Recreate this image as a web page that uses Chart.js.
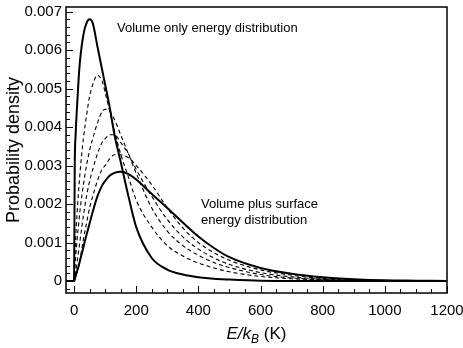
<!DOCTYPE html>
<html>
<head>
<meta charset="utf-8">
<script src="https://cdn.jsdelivr.net/npm/chart.js@4.4.1/dist/chart.umd.min.js"></script>
<style>
  html, body { margin: 0; padding: 0; background: #fff; }
  #wrap { width: 463px; height: 348px; }
</style>
</head>
<body>
<div id="wrap"><canvas id="chart"></canvas></div>
<script>
// energy grid E/kB (K)
const energies = [-26, 0, 2, 5, 10, 15, 20, 30, 40, 50, 60, 75, 90, 100, 115, 130, 150, 175, 200, 250, 300, 350, 400, 450, 500, 600, 700, 800, 900, 1000, 1100, 1200];

// volume only (solid, narrow)
const volumeOnly = [0, 0, 0.0029, 0.0038, 0.0046, 0.0053, 0.0058, 0.0064, 0.0067, 0.0068, 0.0067, 0.0061, 0.0055, 0.0051, 0.0045, 0.0038, 0.0031, 0.0022, 0.0014, 0.0006, 0.0003, 0.00017, 0.0001, 0.00006, 0.00004, 0.00001, 0, 0, 0, 0, 0, 0];

// intermediate curves (dashed)
const mix1 = [0, 0, 0.0005, 0.0011, 0.0018, 0.0024, 0.0029, 0.0037, 0.0043, 0.0048, 0.0051, 0.00535, 0.0052, 0.0049, 0.0044, 0.0039, 0.0033, 0.0027, 0.0021, 0.0014, 0.00092, 0.00065, 0.00047, 0.00034, 0.00024, 0.00012, 0.00006, 0.00003, 0.00001, 0, 0, 0];
const mix2 = [0, 0, 0.0002, 0.0006, 0.0011, 0.0015, 0.0019, 0.0025, 0.003, 0.0034, 0.0037, 0.0041, 0.0044, 0.00446, 0.0044, 0.0042, 0.0038, 0.0033, 0.0028, 0.0019, 0.0013, 0.00092, 0.00067, 0.00048, 0.00035, 0.00017, 0.00008, 0.00004, 0.00002, 0.00001, 0, 0];
const mix3 = [0, 0, 0.00008, 0.00022, 0.0005, 0.0008, 0.0011, 0.0017, 0.0022, 0.0026, 0.0029, 0.0033, 0.0036, 0.0037, 0.0038, 0.0038, 0.0036, 0.0033, 0.0029, 0.0022, 0.0016, 0.00115, 0.00083, 0.0006, 0.00043, 0.00022, 0.00011, 0.00005, 0.00002, 0.00001, 0, 0];
const mix4 = [0, 0, 0.00003, 0.0001, 0.00025, 0.0004, 0.0006, 0.00108, 0.0015, 0.0019, 0.0022, 0.0026, 0.0029, 0.003, 0.00318, 0.00328, 0.00328, 0.0032, 0.003, 0.0025, 0.0019, 0.00138, 0.001, 0.00074, 0.00054, 0.00029, 0.00015, 0.00007, 0.00003, 0.00001, 0, 0];

// volume plus surface (solid, wide)
const volumePlusSurface = [0, 0, 0.00005, 0.00013, 0.00027, 0.0004, 0.00056, 0.00088, 0.0012, 0.0015, 0.0018, 0.0022, 0.00248, 0.0026, 0.00274, 0.00281, 0.00284, 0.00278, 0.00264, 0.00226, 0.0019, 0.00152, 0.00116, 0.00086, 0.00062, 0.00034, 0.00019, 0.0001, 0.00005, 0.00002, 0.00001, 0];

const xTicks = [0, 200, 400, 600, 800, 1000, 1200];
const yTicks = [0, 0.001, 0.002, 0.003, 0.004, 0.005, 0.006, 0.007];

const FONT = "'Liberation Sans', Arial, Helvetica, sans-serif";

function pts(ys) {
  return energies.map((e, i) => ({ x: e, y: ys[i] }));
}

function solid(label, ys) {
  return { label, data: pts(ys), borderColor: "#000", borderWidth: 2, pointRadius: 0, fill: false, cubicInterpolationMode: "monotone" };
}
function dashed(label, ys) {
  return { label, data: pts(ys), borderColor: "#000", borderWidth: 1.1, borderDash: [4, 3], pointRadius: 0, fill: false, cubicInterpolationMode: "monotone" };
}

// frame, inward ticks, annotations and axis title
const decorations = {
  id: "decorations",
  afterDraw(chart) {
    const { ctx, chartArea: a, scales } = chart;
    const xs = scales.x, ys = scales.y;
    ctx.save();
    ctx.strokeStyle = "#000";
    ctx.lineWidth = 1;
    // x ticks
    for (let v = 0; v <= 1200; v += 50) {
      const px = Math.round(xs.getPixelForValue(v)) + 0.5;
      const len = v % 200 === 0 ? 7 : 4;
      ctx.beginPath();
      ctx.moveTo(px, a.bottom);
      ctx.lineTo(px, a.bottom - len);
      ctx.stroke();
    }
    // y ticks
    for (let i = -1; i <= 35; i++) {
      const v = i * 0.0002;
      const py = Math.round(ys.getPixelForValue(v)) + 0.5;
      const len = i % 5 === 0 ? 7 : 4;
      ctx.beginPath();
      ctx.moveTo(a.left, py);
      ctx.lineTo(a.left + len, py);
      ctx.stroke();
    }
    // frame
    ctx.lineWidth = 1.5;
    ctx.strokeRect(a.left, a.top, a.right - a.left, a.bottom - a.top);

    // annotations
    ctx.fillStyle = "#000";
    ctx.font = "13px " + FONT;
    ctx.textAlign = "left";
    ctx.textBaseline = "alphabetic";
    ctx.fillText("Volume only energy distribution", 117, 32);
    ctx.fillText("Volume plus surface", 201, 208);
    ctx.fillText("energy distribution", 201, 224);

    // x axis title: E/k_B (K)
    const parts = [
      { t: "E/k", f: "italic 17px " + FONT, dy: 0 },
      { t: "B", f: "italic 12px " + FONT, dy: 4 },
      { t: " (K)", f: "17px " + FONT, dy: 0 }
    ];
    let w = 0;
    parts.forEach(p => { ctx.font = p.f; p.w = ctx.measureText(p.t).width; w += p.w; });
    let x = (a.left + a.right) / 2 - w / 2;
    parts.forEach(p => {
      ctx.font = p.f;
      ctx.fillText(p.t, x, 339 + p.dy);
      x += p.w;
    });
    ctx.restore();
  }
};

new Chart(document.getElementById("chart"), {
  type: "line",
  data: {
    datasets: [
      solid("Volume only", volumeOnly),
      dashed("1", mix1),
      dashed("2", mix2),
      dashed("3", mix3),
      dashed("4", mix4),
      solid("Volume plus surface", volumePlusSurface)
    ]
  },
  options: {
    responsive: true,
    maintainAspectRatio: false,
    animation: false,
    layout: { padding: { top: 7, right: 16, left: 0, bottom: 0 } },
    plugins: { legend: { display: false }, tooltip: { enabled: false } },
    scales: {
      x: {
        type: "linear",
        min: -26,
        max: 1200,
        grid: { display: false, drawTicks: false },
        border: { display: false },
        afterBuildTicks: s => { s.ticks = xTicks.map(v => ({ value: v })); },
        afterFit: s => { s.height = 55; s.paddingLeft = 0; s.paddingRight = 0; },
        ticks: {
          color: "#000",
          font: { family: FONT, size: 15 },
          padding: 9,
          maxRotation: 0,
          autoSkip: false,
          callback: v => String(v)
        }
      },
      y: {
        type: "linear",
        min: -0.00031,
        max: 0.00712,
        grid: { display: false, drawTicks: false },
        border: { display: false },
        afterBuildTicks: s => { s.ticks = yTicks.map(v => ({ value: v })); },
        afterFit: s => { s.width = 66; s.paddingTop = 0; s.paddingBottom = 0; },
        ticks: {
          color: "#000",
          font: { family: FONT, size: 15 },
          padding: 4,
          callback: v => (v === 0 ? "0" : v.toFixed(3))
        },
        title: {
          display: true,
          text: "Probability density",
          color: "#000",
          font: { family: FONT, size: 18 },
          padding: { top: 3, bottom: 0 }
        }
      }
    }
  },
  plugins: [decorations]
});
</script>
</body>
</html>
